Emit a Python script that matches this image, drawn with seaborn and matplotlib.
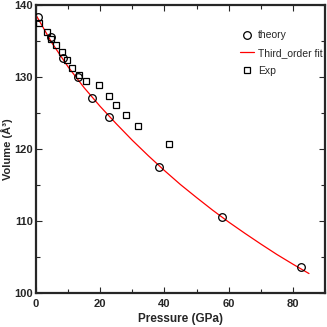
import numpy as np
import pandas as pd
import matplotlib
matplotlib.use("Agg")
import matplotlib.pyplot as plt
import seaborn as sns
from matplotlib.ticker import MultipleLocator

# Data
theory_p = [0.5, 4.7, 8.5, 13.2, 17.6, 22.8, 38.2, 58.0, 82.5]
theory_v = [138.3, 135.6, 132.6, 130.0, 127.1, 124.5, 117.5, 110.5, 103.6]

exp_p = [0.9, 3.3, 4.7, 6.1, 8.2, 9.8, 11.3, 13.4, 15.5, 19.5, 22.8, 25.0, 28.1, 31.7, 41.3]
exp_v = [137.5, 136.2, 135.2, 134.4, 133.4, 132.4, 131.3, 130.3, 129.4, 128.9, 127.4, 126.1, 124.7, 123.2, 120.7]

fit_p = [0, 5, 10, 15, 20, 25, 30, 35, 40, 45, 50, 55, 60, 65, 70, 75, 80, 85]
fit_v = [138.6, 134.7, 131.4, 128.5, 125.9, 123.5, 121.2, 119.05, 117.0, 115.05, 113.25,
         111.5, 109.85, 108.3, 106.8, 105.35, 104.0, 102.7]

sns.set_style("ticks")
plt.rcParams['font.family'] = ['Liberation Sans', 'DejaVu Sans']

fig = plt.figure(figsize=(3.27, 3.27), dpi=100)
ax = fig.add_axes([0.11, 0.104, 0.884, 0.881])

fit_df = pd.DataFrame({"P": fit_p, "V": fit_v})
th_df = pd.DataFrame({"P": theory_p, "V": theory_v})
ex_df = pd.DataFrame({"P": exp_p, "V": exp_v})

ax.plot(th_df["P"], th_df["V"], linestyle='none', marker='o', markersize=5.5,
        markerfacecolor='none', markeredgecolor='black', markeredgewidth=0.9, label='theory', zorder=3)
sns.lineplot(data=fit_df, x="P", y="V", ax=ax, color='red', linewidth=0.9,
             label='Third_order fit', zorder=2)
ax.plot(ex_df["P"], ex_df["V"], linestyle='none', marker='s', markersize=5,
        markerfacecolor='none', markeredgecolor='black', markeredgewidth=0.9, label='Exp', zorder=3)

ax.set_xlim(0, 90)
ax.set_ylim(100, 140)
ax.xaxis.set_major_locator(MultipleLocator(20))
ax.xaxis.set_minor_locator(MultipleLocator(10))
ax.yaxis.set_major_locator(MultipleLocator(10))
ax.yaxis.set_minor_locator(MultipleLocator(5))
ax.tick_params(which='both', direction='in', top=True, right=True, labelsize=8)
ax.tick_params(axis='x', pad=4)
ax.tick_params(axis='y', pad=2)
ax.tick_params(which='major', length=4, width=0.8)
ax.tick_params(which='minor', length=3, width=0.8)
for lab in ax.get_xticklabels() + ax.get_yticklabels():
    lab.set_fontweight('bold')
for s in ax.spines.values():
    s.set_linewidth(1.6)
    s.set_visible(True)

ax.set_xlabel("Pressure (GPa)", fontsize=8.5, fontweight='bold')
ax.xaxis.set_label_coords(0.5, -0.07)
ax.set_ylabel("Volume (Å³)", fontsize=8, fontweight='bold')
ax.yaxis.set_label_coords(-0.08, 0.5)

ax.legend(loc='upper right', bbox_to_anchor=(1.01, 0.93), borderaxespad=0.1, frameon=False,
          fontsize=7.5, handlelength=1.3, handletextpad=0.4, labelspacing=0.75)

fig.savefig("out.png", dpi=100)
